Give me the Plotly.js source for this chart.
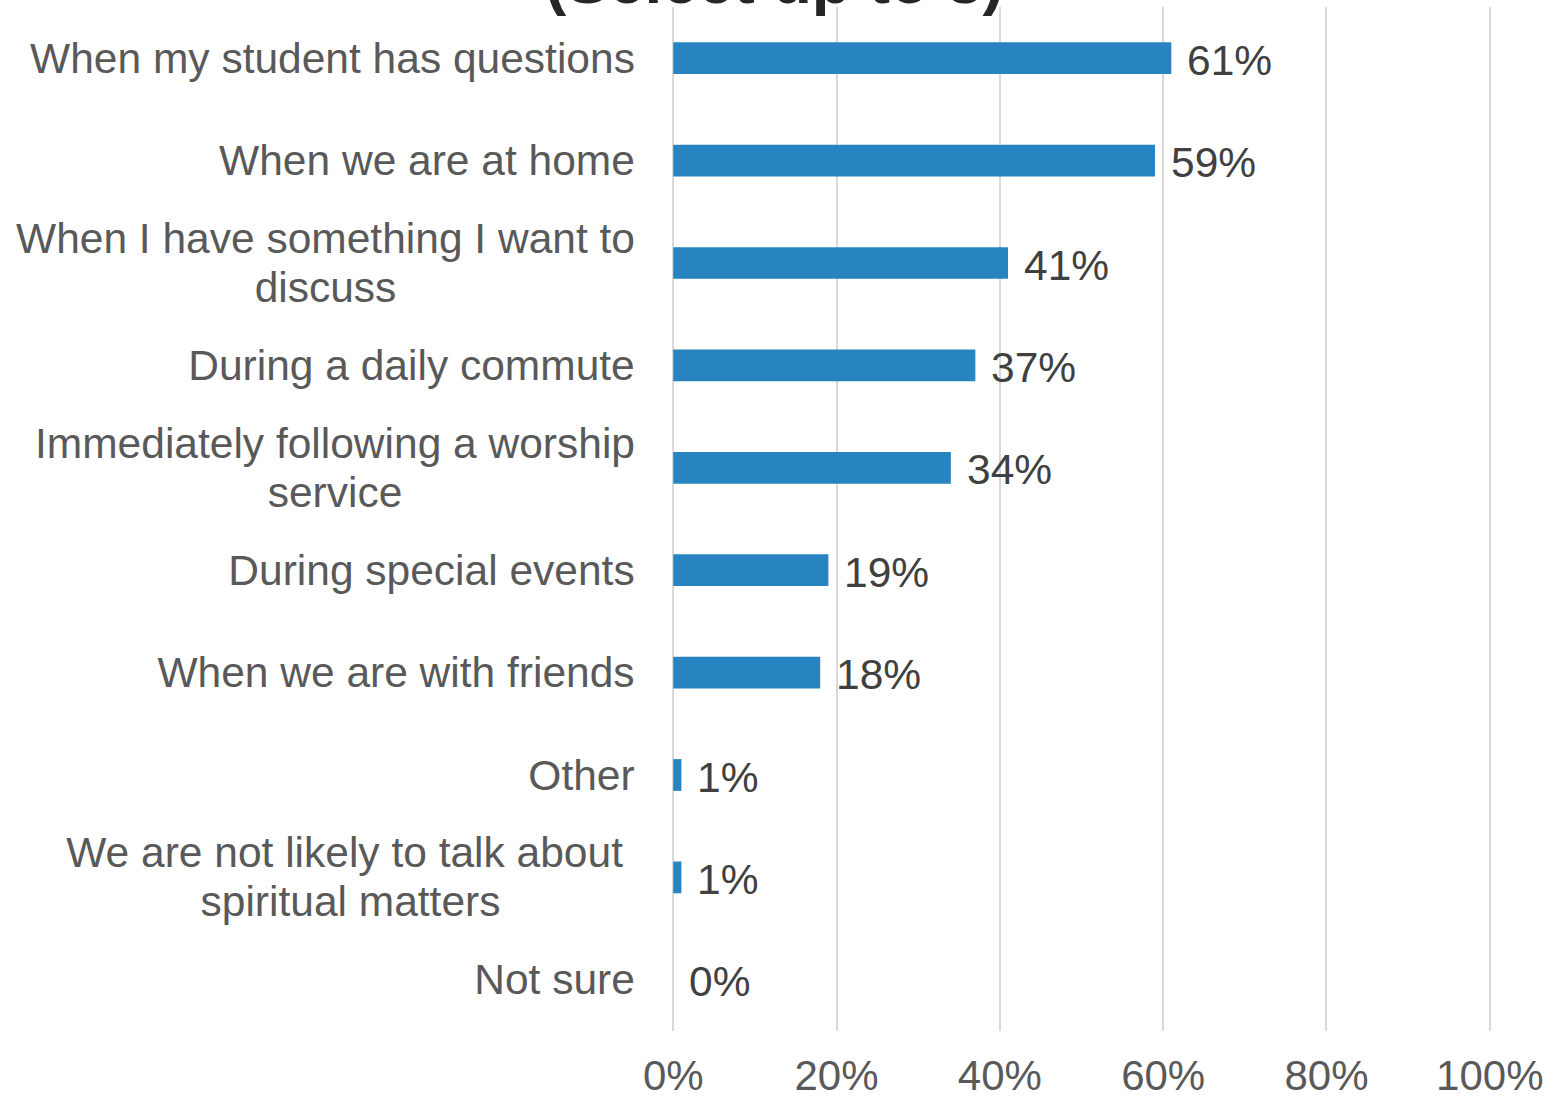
<!DOCTYPE html>
<html>
<head>
<meta charset="utf-8">
<script src="https://cdn.plot.ly/plotly-3.0.1.min.js"></script>
<style>html,body{margin:0;padding:0;background:#fff;}#chart{width:1555px;height:1097px;}</style>
</head>
<body>
<div id="chart"></div>
<script>
const categories = [
  "When my student has questions",
  "When we are at home",
  "When I have something I want to<br>discuss",
  "During a daily commute",
  "Immediately following a worship<br>service",
  "During special events",
  "When we are with friends",
  "Other",
  "We are not likely to talk about <br>spiritual matters",
  "Not sure"
];
const values = [61, 59, 41, 37, 34, 19, 18, 1, 1, 0];
const xTickVals = [0, 20, 40, 60, 80, 100];
const xTickText = ["0%", "20%", "40%", "60%", "80%", "100%"];
const titleText = "(Select up to 3)";

const font = "Liberation Sans, Arial, sans-serif";
const labelSize = 42.5;

const canvas = document.createElement("canvas");
const ctx = canvas.getContext("2d");
ctx.font = labelSize + "px 'Liberation Sans', Arial, sans-serif";
function textWidth(s) { return ctx.measureText(s).width; }

const trace = {
  type: "bar",
  orientation: "h",
  y: categories,
  x: values,
  width: 0.31,
  marker: {color: "#2784C1"},
  hoverinfo: "skip"
};

const annotations = [];
const lineGap = 49;
categories.forEach((c, i) => {
  const lines = c.split("<br>");
  const n = lines.length;
  const boxW = Math.ceil(Math.max(...lines.map(textWidth))) + 4;
  lines.forEach((ln, k) => {
    annotations.push({
      xref: "paper", yref: "y", x: -0.0405, y: c,
      xanchor: "right", yanchor: "middle", align: "center",
      width: boxW,
      text: ln, showarrow: false,
      yshift: ((n - 1) / 2 - k) * lineGap,
      font: {family: font, size: labelSize, color: "#595959"}
    });
  });
  annotations.push({
    xref: "x", yref: "y", x: values[i], y: c,
    xanchor: "left", yanchor: "middle", xshift: 14, yshift: -2,
    text: values[i] + "%", showarrow: false,
    font: {family: font, size: labelSize, color: "#404040"}
  });
});
// title, only its bottom part is inside the picture as in the reference
annotations.push({
  xref: "paper", yref: "paper", x: 0.125, y: 1,
  xanchor: "center", yanchor: "bottom", yshift: -12,
  text: "<b>" + titleText + "</b>", showarrow: false,
  font: {family: font, size: 64, color: "#262626"}
});

const layout = {
  width: 1555, height: 1097,
  margin: {l: 672, r: 64, t: 7, b: 66, pad: 0},
  paper_bgcolor: "#fff", plot_bgcolor: "#fff",
  showlegend: false,
  xaxis: {
    range: [-0.15, 100.15], tickvals: xTickVals, ticktext: xTickText,
    showgrid: true, gridcolor: "#D9D9D9", gridwidth: 2,
    zeroline: false, showline: false, ticks: "",
    ticklabelstandoff: 16,
    tickfont: {family: font, size: 42, color: "#595959"},
    fixedrange: true
  },
  yaxis: {
    categoryorder: "array", categoryarray: categories.slice().reverse(),
    showticklabels: false, showgrid: false, zeroline: false, ticks: "",
    fixedrange: true
  },
  annotations: annotations
};

Plotly.newPlot("chart", [trace], layout, {displayModeBar: false, staticPlot: true});
</script>
</body>
</html>
